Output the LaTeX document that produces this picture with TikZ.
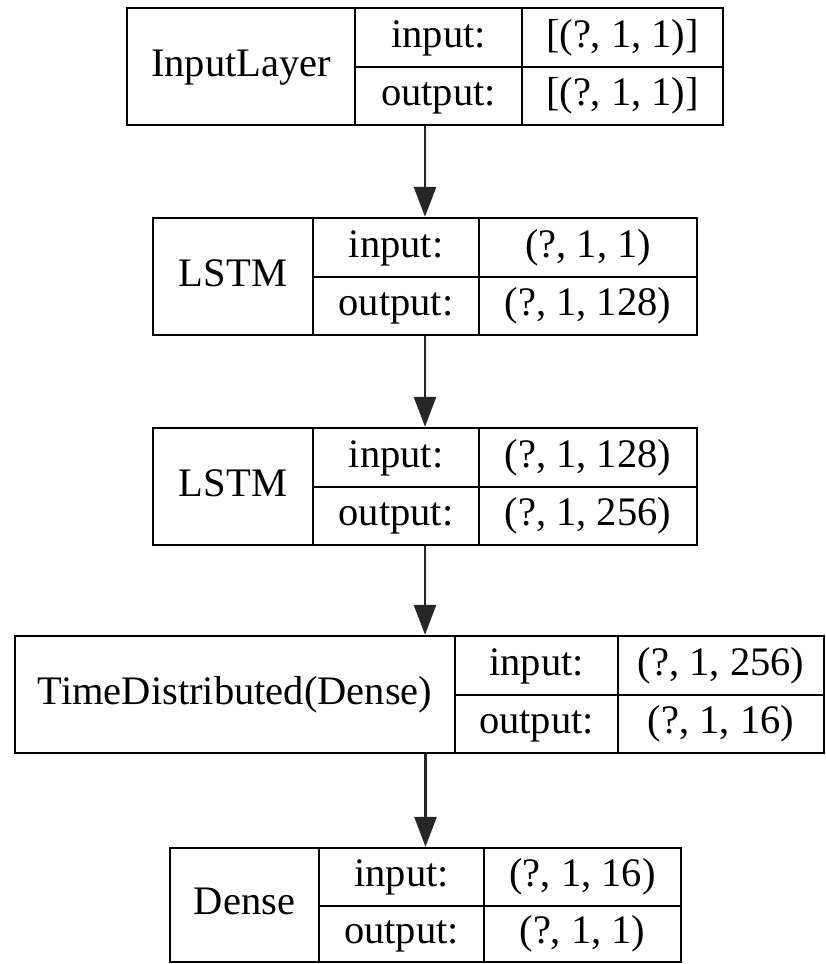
\documentclass[tikz,border=0pt]{standalone}
\usepackage{fontspec}
\setmainfont{Liberation Serif}
\usetikzlibrary{arrows.meta}
\begin{document}
\begin{tikzpicture}[x=1pt,y=1pt,
  box/.style={draw=black, line width=2.4pt, rectangle, inner sep=0pt},
  sep/.style={draw=black, line width=2.4pt},
  lbl/.style={font=\fontsize{40.5}{40.5}\selectfont, text height=27pt, text depth=8pt, inner sep=0pt},
  arr/.style={draw=black!85, line width=2.8pt, -{Triangle[length=30pt,width=22pt]}, shorten >=0pt}]
\useasboundingbox (0,0) rectangle (826,-964);

% Box 1
\node[box, minimum width=596pt, minimum height=117pt] (b1) at (425,-66.5) {};
\draw[sep] (355,-8) -- (355,-125);
\draw[sep] (522,-8) -- (522,-125);
\draw[sep] (355,-67) -- (723,-67);
\node[lbl] (b1n) at (241,-66.5) {InputLayer};
\node[lbl] (b1i) at (438.5,-37.5) {input:};
\node[lbl] (b1o) at (438.5,-96) {output:};
\node[lbl] (b1iv) at (622.5,-37.5) {[(?, 1, 1)]};
\node[lbl] (b1ov) at (622.5,-96) {[(?, 1, 1)]};

% Box 2
\node[box, minimum width=544pt, minimum height=117pt] (b2) at (425,-276.5) {};
\draw[sep] (313,-218) -- (313,-335);
\draw[sep] (479,-218) -- (479,-335);
\draw[sep] (313,-277) -- (697,-277);
\node[lbl] (b2n) at (233,-276.5) {LSTM};
\node[lbl] (b2i) at (396,-247.5) {input:};
\node[lbl] (b2o) at (396,-306) {output:};
\node[lbl] (b2iv) at (588,-247.5) {(?, 1, 1)};
\node[lbl] (b2ov) at (588,-306) {(?, 1, 128)};

% Box 3
\node[box, minimum width=544pt, minimum height=117pt] (b3) at (425,-486.5) {};
\draw[sep] (313,-428) -- (313,-545);
\draw[sep] (479,-428) -- (479,-545);
\draw[sep] (313,-487) -- (697,-487);
\node[lbl] (b3n) at (233,-486.5) {LSTM};
\node[lbl] (b3i) at (396,-457.5) {input:};
\node[lbl] (b3o) at (396,-516) {output:};
\node[lbl] (b3iv) at (588,-457.5) {(?, 1, 128)};
\node[lbl] (b3ov) at (588,-516) {(?, 1, 256)};

% Box 4
\node[box, minimum width=809pt, minimum height=117pt] (b4) at (419.5,-694.5) {};
\draw[sep] (455,-636) -- (455,-753);
\draw[sep] (618,-636) -- (618,-753);
\draw[sep] (455,-695) -- (824,-695);
\node[lbl] (b4n) at (235,-694.5) {TimeDistributed(Dense)};
\node[lbl] (b4i) at (536.5,-665.5) {input:};
\node[lbl] (b4o) at (536.5,-724) {output:};
\node[lbl] (b4iv) at (721,-665.5) {(?, 1, 256)};
\node[lbl] (b4ov) at (721,-724) {(?, 1, 16)};

% Box 5
\node[box, minimum width=511pt, minimum height=114pt] (b5) at (425.5,-905) {};
\draw[sep] (319,-848) -- (319,-962);
\draw[sep] (484,-848) -- (484,-962);
\draw[sep] (319,-906) -- (681,-906);
\node[lbl] (b5n) at (244.5,-905) {Dense};
\node[lbl] (b5i) at (401.5,-877) {input:};
\node[lbl] (b5o) at (401.5,-934) {output:};
\node[lbl] (b5iv) at (582.5,-877) {(?, 1, 16)};
\node[lbl] (b5ov) at (582.5,-934) {(?, 1, 1)};

% Arrows
\draw[arr] (b1.south) -- (b1.south |- b2.north);
\draw[arr] (b2.south) -- (b2.south |- b3.north);
\draw[arr] (b3.south) -- (b3.south |- b4.north);
\draw[arr] (b4.south -| b5.north) -- (b5.north);
\end{tikzpicture}
\end{document}
